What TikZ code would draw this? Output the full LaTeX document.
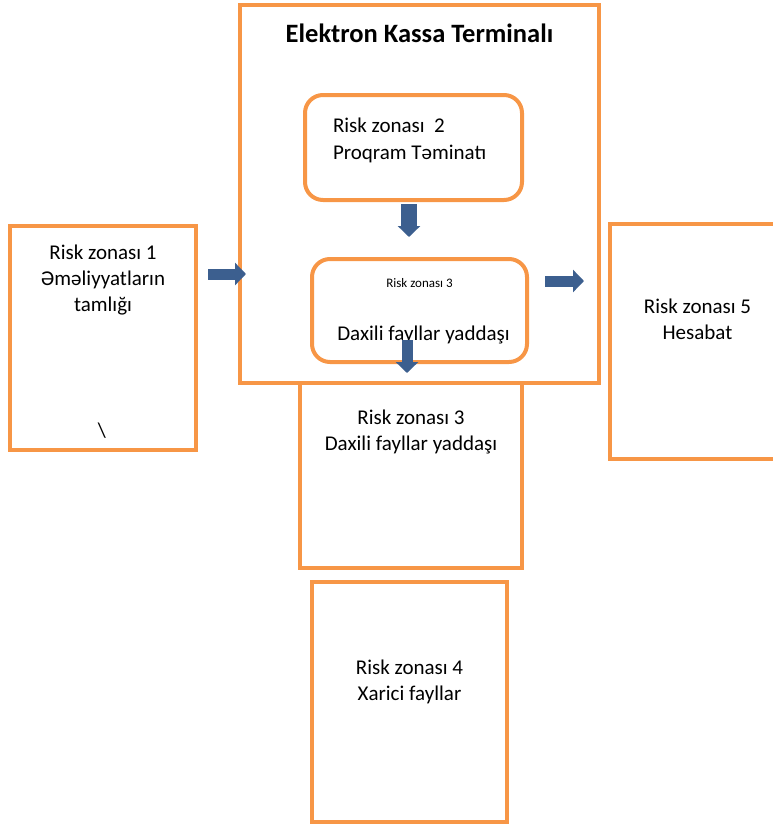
\documentclass[tikz,border=0pt]{standalone}
\usepackage{fontspec}
\setmainfont{Carlito}
\usetikzlibrary{positioning,calc,arrows.meta}
\definecolor{zoneorange}{HTML}{F79646}
\definecolor{arrowblue}{HTML}{3C5F8F}

\begin{document}
\begin{tikzpicture}[x=1pt,y=-1pt,
  zonebox/.style={draw=zoneorange, line width=4pt, outer sep=0pt, inner sep=0pt},
  roundbox/.style={zonebox, rounded corners=18pt},
  zonetext/.style={inner sep=0pt, outer sep=0pt, align=center, font=\fontsize{21}{26}\selectfont},
  blockarrow/.style={arrowblue, line width=11pt, -{Triangle[width=22pt,length=11pt]}}]
\clip (0,0) rectangle (773,827); % page
\node[zonebox, minimum width=359pt, minimum height=378pt] (term) at (419.5,194) {}; % terminal frame
\node[roundbox, minimum width=217pt, minimum height=105pt] (zonetwo) at (413.5,147.5) {}; % zone 2
\node[roundbox, minimum width=215pt, minimum height=103pt] (zonethreein) at (419.5,310.5) {}; % zone 3 inside
\node[zonebox, minimum width=222pt, minimum height=185pt] (zonethree) at (411,475.5) {}; % zone 3
\node[zonebox, minimum width=195pt, minimum height=240pt] (zonefour) at (409.5,702) {}; % zone 4
\node[zonebox, minimum width=186pt, minimum height=224pt] (zoneone) at (103,338) {}; % zone 1
\node[zonebox, minimum width=175pt, minimum height=235pt] (zonefive) at (697.5,341.5) {}; % zone 5
\node[zonetext, font=\bfseries\fontsize{26.5}{30}\selectfont, below=19pt of term.north] (termtitle) {Elektron Kassa Terminalı}; % title
\node[zonetext, align=left, font=\fontsize{21}{27}\selectfont, below right=23pt and 28pt of zonetwo.north west] (zonetwotext) {Risk zonası\ \ 2\\Proqram Təminatı};
\node[zonetext, font=\fontsize{13}{16}\selectfont, below=19pt of zonethreein.north] (zonethreeinhead) {Risk zonası 3};
\node[zonetext, below=67pt of zonethreein.north, xshift=4pt] (zonethreeintext) {Daxili fayllar yaddaşı};
\node[zonetext, below=19pt of zoneone.north] (zoneonetext) {Risk zonası 1\\Əməliyyatların\\tamlığı};
\node[zonetext, anchor=base] (zoneonemark) at (102,437) {\textbackslash};
\node[zonetext, below=27pt of zonethree.north] (zonethreetext) {Risk zonası 3\\Daxili fayllar yaddaşı};
\node[zonetext, below=78pt of zonefour.north] (zonefourtext) {Risk zonası 4\\Xarici fayllar};
\node[zonetext, below=75pt of zonefive.north] (zonefivetext) {Risk zonası 5\\Hesabat};
\draw[blockarrow] ($(zoneone.east)+(12,-64)$) -- ($(term.west)+(6,80)$); % zone 1 in
\draw[blockarrow, line width=16pt] ($(zonetwo.south)+(-4.5,4)$) -- ($(zonethreein.north)+(-10.5,-22)$); % 2 to 3
\draw[blockarrow] ($(zonethreein.south)+(-12.5,-22)$) -- ($(zonethree.north)+(-4,-10)$); % 3 down
\draw[blockarrow] ($(term.east)+(-54,87)$) -- ($(zonefive.west)+(-26,-60.5)$); % out to 5
\end{tikzpicture}
\end{document}
